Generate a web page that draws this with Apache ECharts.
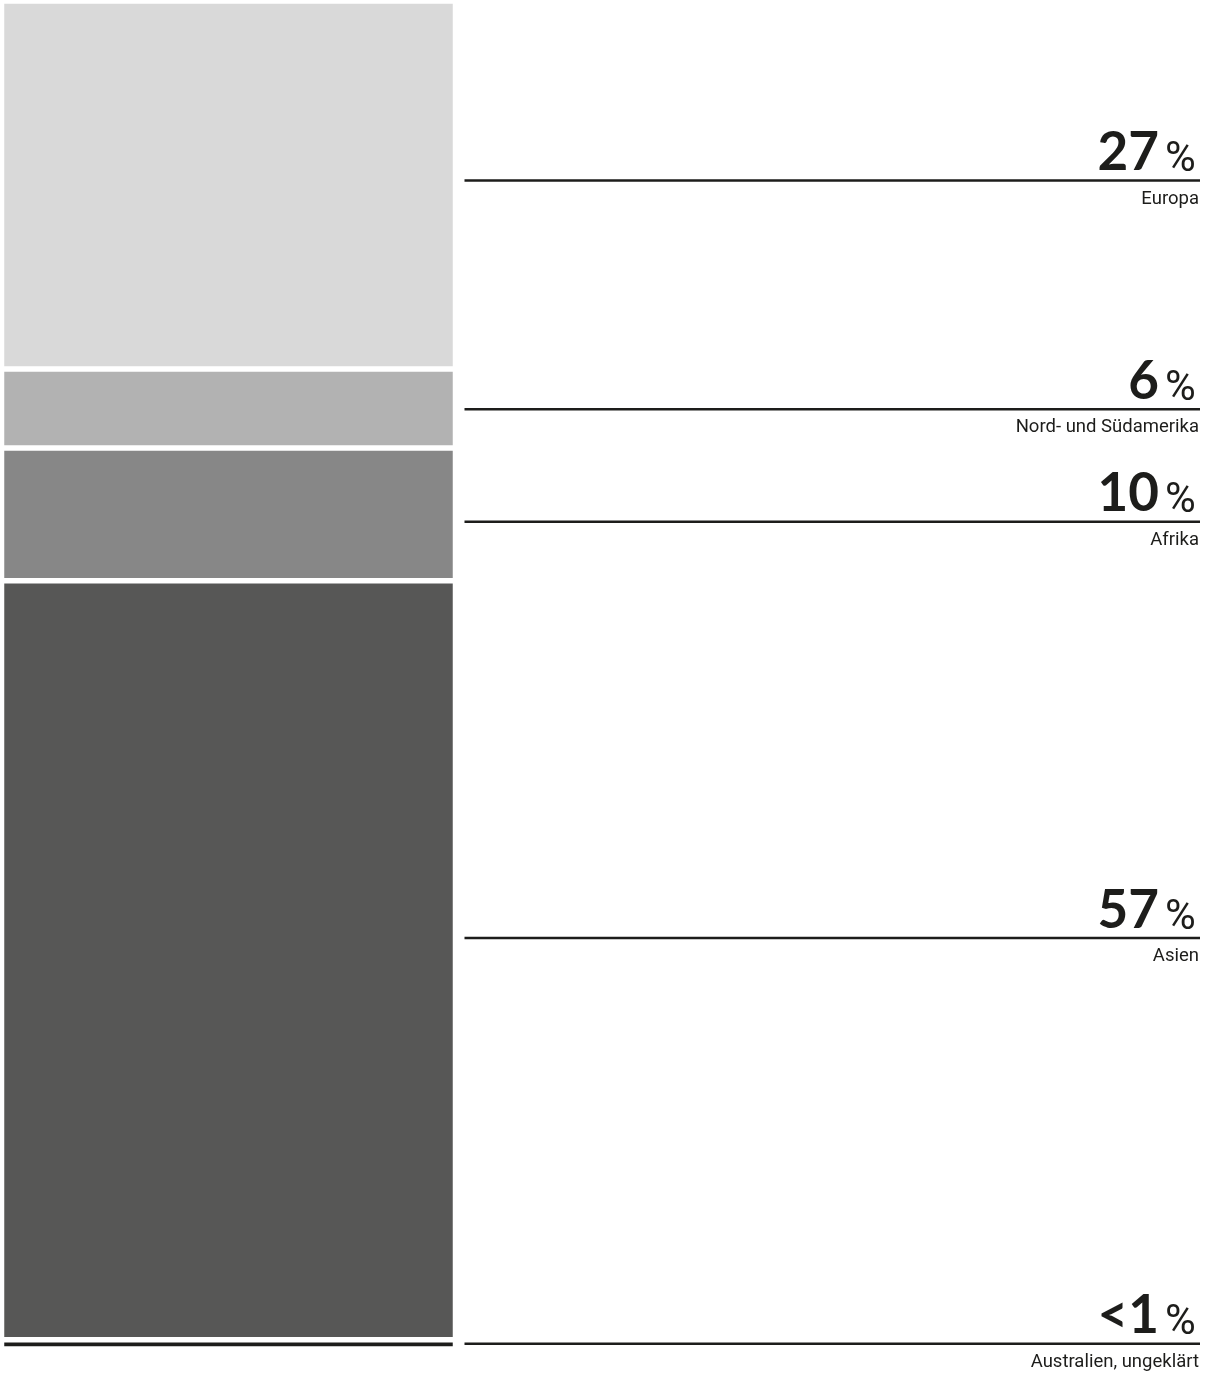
<!DOCTYPE html>
<html>
<head>
<meta charset="utf-8">
<script src="https://cdn.jsdelivr.net/npm/echarts@6/dist/echarts.min.js"></script>
<style>
html,body{margin:0;padding:0;background:#fff;}
#chart{width:1213px;height:1375px;}
</style>
</head>
<body>
<div id="chart"></div>
<script>
// Data
const categories = ['Europa', 'Nord- und Südamerika', 'Afrika', 'Asien', 'Australien, ungeklärt'];
const shares = [27.5, 5.9, 9.9, 56.7, 0.7];
const shareLabels = ['27', '6', '10', '57', '<1'];
// position of each annotation line on the stacked share scale
const labelAnchors = [13.4, 30.5, 38.9, 70.0, 100.3];
const segmentColors = ['#d9d9d9', '#b2b2b2', '#878787', '#575756', '#1d1d1b'];

const total = shares.reduce((a, b) => a + b, 0);
const ink = '#1d1d1b';

const chart = echarts.init(document.getElementById('chart'), null, { renderer: 'canvas' });

const barSeries = categories.map((name, i) => ({
  type: 'bar',
  name: name,
  stack: 'total',
  xAxisIndex: 0,
  yAxisIndex: 0,
  barWidth: '100%',
  data: [shares[i]],
  itemStyle: { color: segmentColors[i], borderColor: '#ffffff', borderWidth: 2.75 },
  silent: true
}));

const annotation = {
  type: 'custom',
  xAxisIndex: 1,
  yAxisIndex: 1,
  silent: true,
  data: labelAnchors.map((v, i) => [0, v, i]),
  renderItem: function (params, api) {
    const idx = api.value(2);
    const y = api.coord([0, api.value(1)])[1];
    const cs = params.coordSys;
    const left = cs.x;
    const right = cs.x + cs.width;
    return {
      type: 'group',
      children: [
        { type: 'line', shape: { x1: left, y1: y, x2: right, y2: y },
          style: { stroke: ink, lineWidth: 2.5 } },
        { type: 'text', style: { text: shareLabels[idx], x: right - 41, y: y - 1,
          textAlign: 'right', align: 'right', textVerticalAlign: 'bottom', verticalAlign: 'bottom',
          font: 'bold 53px Lato', fill: ink } },
        { type: 'text', style: { text: '%', x: right - 35, y: y + 1,
          textAlign: 'left', align: 'left', textVerticalAlign: 'bottom', verticalAlign: 'bottom',
          font: '400 42px Roboto', fill: ink } },
        { type: 'text', style: { text: categories[idx], x: right - 1, y: y + 9,
          textAlign: 'right', align: 'right', textVerticalAlign: 'top', verticalAlign: 'top',
          font: '18.5px Roboto', fill: ink } }
      ]
    };
  }
};

chart.setOption({
  animation: false,
  grid: [
    { left: 1.5, top: 1, width: 454, height: 1348 },
    { left: 464.5, top: 1, width: 735.5, height: 1348 }
  ],
  xAxis: [
    { type: 'category', gridIndex: 0, data: [''], show: false },
    { type: 'value', gridIndex: 1, min: 0, max: 1, show: false }
  ],
  yAxis: [
    { type: 'value', gridIndex: 0, inverse: true, min: 0, max: total, show: false },
    { type: 'value', gridIndex: 1, inverse: true, min: 0, max: total, show: false }
  ],
  series: barSeries.concat([annotation])
});
</script>
</body>
</html>
